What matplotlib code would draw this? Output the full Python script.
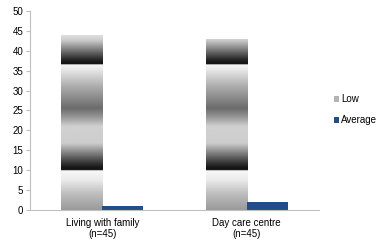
import numpy as np
import matplotlib.pyplot as plt
from matplotlib.patches import Patch, Rectangle

plt.rcParams['font.family'] = ['Liberation Sans', 'DejaVu Sans']

categories = ['Living with family\n(n=45)', 'Day care centre\n(n=45)']
low = [44, 43]
average = [1, 2]
yticks = [0, 5, 10, 15, 20, 25, 30, 35, 40, 45, 50]

# grey banding of the "Low" fill, value -> grey level (0 black, 1 white)
band_v = [0, 4.2, 7.5, 9.9, 9.95, 10.5, 11.7, 14.2, 16.7, 20.9, 23.4, 25.5, 27.6, 31, 35, 36.4, 36.45, 36.8, 37.6, 40.1, 42.5, 45]
band_g = [0.60, 0.75, 0.92, 0.97, 0.10, 0.08, 0.20, 0.50, 0.80, 0.82, 0.58, 0.42, 0.52, 0.68, 0.90, 0.97, 0.10, 0.08, 0.15, 0.48, 0.80, 0.95]
vv = np.linspace(0, 50, 600)
grad = np.interp(vv, band_v, band_g)[:, None]

fig = plt.figure(figsize=(3.77, 2.43), dpi=100)
ax = fig.add_axes([0.0796, 0.136, 0.7666, 0.819])

x = np.arange(len(categories))
w = 0.284
blue = '#1f4e89'
fs = 7

for xi, h in zip(x, low):
    rect = Rectangle((xi - w, 0), w, h, facecolor='none', edgecolor='none')
    ax.add_patch(rect)
    im = ax.imshow(grad, cmap='gray', vmin=0, vmax=1, aspect='auto',
                   extent=(xi - w, xi, 0, 50), origin='lower', zorder=2)
    im.set_clip_path(rect)

ax.bar(x + w / 2, average, width=w, color=blue, zorder=2)

ax.set_xlim(-0.5, 1.5)
ax.set_ylim(0, 50)
ax.set_yticks(yticks)
ax.set_xticks(x)
ax.set_xticklabels(categories, fontsize=fs, linespacing=1.1)
ax.tick_params(axis='x', length=0, pad=6)
ax.tick_params(axis='y', labelsize=fs, length=3, color='#bfbfbf', pad=2)
for s in ['top', 'right']:
    ax.spines[s].set_visible(False)
for s in ['left', 'bottom']:
    ax.spines[s].set_color('#bfbfbf')
    ax.spines[s].set_linewidth(0.8)

handles = [Patch(facecolor='#b4b4b4', edgecolor='none', label='Low'),
           Patch(facecolor=blue, edgecolor='none', label='Average')]
fig.legend(handles=handles, loc='center left', bbox_to_anchor=(0.872, 0.548),
           frameon=False, fontsize=fs, handlelength=0.6, handleheight=0.6,
           handletextpad=0.2, labelspacing=1.1, borderpad=0)

fig.savefig('out.png', dpi=100)
